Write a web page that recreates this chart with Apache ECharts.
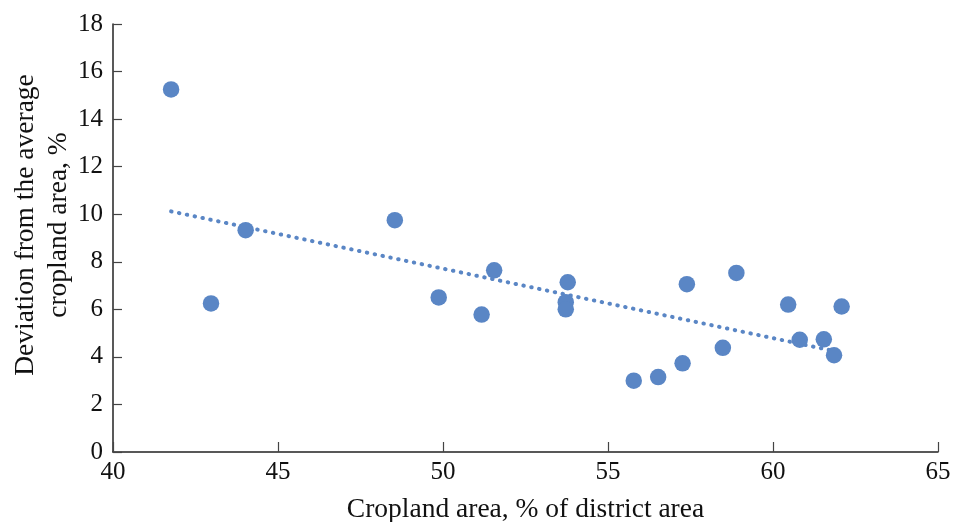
<!DOCTYPE html>
<html>
<head>
<meta charset="utf-8">
<script src="https://cdn.jsdelivr.net/npm/echarts@6/dist/echarts.min.js"></script>
<style>html,body{margin:0;padding:0;background:#fff}#c{width:953px;height:522px}</style>
</head>
<body>
<div id="c"></div>
<script>
var xValues = [41.76, 42.97, 44.02, 48.54, 49.87, 51.17, 51.55, 53.78, 53.72, 53.72, 55.78, 56.52, 57.26, 57.39, 58.48, 58.89, 60.46, 60.81, 61.54, 61.85, 62.08];
var yValues = [15.25, 6.25, 9.33, 9.75, 6.50, 5.78, 7.64, 7.14, 6.30, 6.00, 3.00, 3.15, 3.73, 7.06, 4.38, 7.53, 6.20, 4.72, 4.74, 4.07, 6.12];
var trendX = [41.76, 62.08];
var trendY = [10.12, 4.18];
var xTicks = [40, 45, 50, 55, 60, 65];
var yTicks = [0, 2, 4, 6, 8, 10, 12, 14, 16, 18];

var pts = xValues.map(function (x, i) { return [x, yValues[i]]; });
var trend = trendX.map(function (x, i) { return [x, trendY[i]]; });
var font = '"Liberation Serif", "DejaVu Serif", serif';
var chart = echarts.init(document.getElementById('c'), null, {renderer: 'canvas'});
chart.setOption({
  animation: false,
  grid: {left: 113, right: 15, top: 24, bottom: 70, containLabel: false, outerBoundsMode: 'none'},
  xAxis: {
    type: 'value', min: xTicks[0], max: xTicks[xTicks.length - 1], interval: 5,
    splitLine: {show: false},
    axisLine: {lineStyle: {color: '#222', width: 1.5}},
    axisTick: {inside: true, length: 10, lineStyle: {color: '#444', width: 1.2}},
    axisLabel: {color: '#111', fontFamily: font, fontSize: 25, margin: 8},
    name: 'Cropland area, % of district area',
    nameLocation: 'middle', nameGap: 44, nameMoveOverlap: false,
    nameTextStyle: {color: '#111', fontFamily: font, fontSize: 27.5}
  },
  yAxis: {
    type: 'value', min: yTicks[0], max: yTicks[yTicks.length - 1], interval: 2,
    splitLine: {show: false},
    axisLine: {show: true, lineStyle: {color: '#222', width: 1.5}},
    axisTick: {show: true, inside: true, length: 9, lineStyle: {color: '#444', width: 1.2}},
    axisLabel: {color: '#111', fontFamily: font, fontSize: 25, margin: 10},
    name: 'Deviation from the average\ncropland area, %',
    nameLocation: 'middle', nameGap: 38, nameRotate: 90, nameMoveOverlap: false,
    nameTextStyle: {color: '#111', fontFamily: font, fontSize: 27.5, lineHeight: 33, padding: [0, 0, 0, 26]}
  },
  series: [
    {
      type: 'line', data: trend, symbol: 'none', z: 1,
      lineStyle: {color: '#5a86c5', width: 4, type: [0.5, 7.5], cap: 'round'}
    },
    {
      type: 'scatter', data: pts, symbolSize: 16.5, z: 2,
      itemStyle: {color: '#5a86c5', opacity: 1}
    }
  ]
});
</script>
</body>
</html>
